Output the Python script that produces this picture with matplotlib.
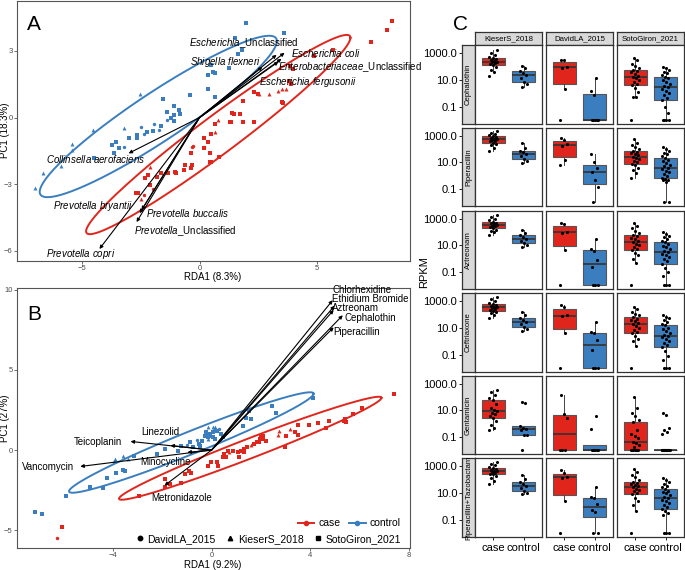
import numpy as np
import matplotlib
matplotlib.use("Agg")
import matplotlib.pyplot as plt
from matplotlib.lines import Line2D

plt.rcParams["font.family"] = ["Liberation Sans", "DejaVu Sans"]
plt.rcParams["mathtext.fontset"] = "custom"
plt.rcParams["mathtext.it"] = "Liberation Sans:italic"
plt.rcParams["mathtext.rm"] = "Liberation Sans"

RED = "#E0261C"
BLUE = "#3A7EBF"
study_marker = {"D": "o", "K": "^", "S": "s"}

# ---------------- panel A: species RDA ----------------
a_ctrl_x = [1.96, 3.59, 1.53, 1.82, 1.63, 0.50, 0.58, 0.68, 1.25, 0.35, 0.37, -0.41, 0.68, -1.55, -1.09, -0.88,
            -1.38, -1.09, -0.81, -1.23, -1.09, -1.66, -1.97, -2.23, -2.68, -2.65, -3.01, -3.57, -3.72, -3.65, -3.43,
            -4.50, -1.73, -2.37, -3.22, -1.38, -1.94, -2.51, -2.54, -4.52, -3.22, -5.42, -5.42, -5.91, -6.65, -7.01]
a_ctrl_y = [4.24, 3.79, 3.58, 3.04, 2.87, 2.34, 2.04, 2.00, 2.22, 1.90, 1.30, 1.00, 0.93, 0.82, 0.51, 0.36,
            0.25, 0.10, 0.18, -0.04, -0.15, -0.39, -0.61, -0.64, -0.79, -0.94, -0.94, -1.09, -1.24, -1.61, -1.39,
            -1.84, -0.57, -0.72, -1.31, -0.12, -0.27, -0.42, 1.07, -0.54, -0.45, -1.21, -1.46, -2.16, -2.51, -3.15]
a_ctrl_study = list("S" * 32 + "D" * 6 + "K" * 8)

a_case_x = [8.21, 8.0, 7.32, 5.70, 4.89, 3.87, 4.0, 3.79, 3.91, 2.30, 2.51, 3.49, 3.57, 1.87, 1.40, 1.45, 1.74,
            1.87, 2.30, 1.28, 1.32, 0.68, 0.47, 0.17, 0.38, 0.81, 0.47, -0.30, -0.60, -0.68, -1.02, -2.21, -1.79,
            -2.64, -2.30, -2.09, -2.72, -0.38, 0.43, -1.06, -1.36, -0.64, -1.66, -0.38, 0.43, 0.21,
            -0.26, -0.30, 0.17, -2.38, -2.0,
            3.36, 3.53, 3.70, 2.94, 2.55, 0.77, 0.68, -2.09, -2.51]
a_case_y = [4.34, 3.94, 3.40, 3.04, 2.78, 2.33, 2.19, 1.66, 1.52, 1.16, 1.07, 0.72, 0.67, 0.76, 0.22, 0.18, 0.18,
            -0.18, -0.18, -0.18, -0.22, -0.27, -0.72, -0.90, -1.12, -1.79, -2.0, -2.15, -2.15, -2.37, -2.51, -2.60,
            -2.69, -3.40, -2.73, -3.04, -3.40, -1.61, -1.61, -2.46, -2.51, -2.37, -2.51, -2.28, -2.0, -1.39,
            -1.30, -1.34, -1.34, -3.49, -3.22,
            1.21, 1.30, 1.30, 1.07, 1.07, -0.09, -0.67, -2.24, -3.67]
a_case_study = list("S" * 46 + "D" * 5 + "K" * 9)

a_species = ["$\\it{Escherichia}$_Unclassified", "$\\it{Escherichia\\ coli}$", "$\\it{Shigella\\ flexneri}$",
             "$\\it{Enterobacteriaceae}$_Unclassified", "$\\it{Escherichia\\ fergusonii}$",
             "$\\it{Collinsella\\ aerofaciens}$", "$\\it{Prevotella\\ bryantii}$", "$\\it{Prevotella\\ buccalis}$",
             "$\\it{Prevotella}$_Unclassified", "$\\it{Prevotella\\ copri}$"]
a_load_x = [3.28, 3.62, 2.68, 3.49, 3.36, -3.02, -2.55, -2.47, -2.68, -4.26]
a_load_y = [2.82, 2.91, 2.28, 2.64, 2.51, -1.61, -4.30, -4.16, -4.70, -5.91]
# label placement (x, y, ha)
a_label_pos = [(1.87, 3.36, "center"), (3.91, 2.91, "left"), (1.11, 2.51, "center"), (3.36, 2.27, "left"),
               (2.55, 1.60, "left"), (-4.43, -1.88, "center"), (-4.55, -3.99, "center"), (-2.26, -4.30, "left"),
               (-2.81, -5.10, "left"), (-5.06, -6.14, "center")]

# ---------------- panel B: antibiotic RDA ----------------
b_ctrl_x = [-7.15, -6.87, -5.93, -4.92, -4.39, -4.23, -3.58, -3.50, -3.86, -3.13, -2.20, -1.87, -1.38, -1.26, -0.89,
            -0.77, -0.49, -0.37, -0.08, 0.04, -0.28, 4.11, 2.44, 2.60, 1.54, 1.59, 1.26, -0.24, -0.12, 0.24, 0.37,
            -0.16, 0.04, 0.16, -0.45, 0.45, 1.40,
            -3.94, -3.41, -3.98, -3.58, -0.16, 0.12, -0.16, 0.04, 0.16,
            -0.60, -1.00, 0.30]
b_ctrl_y = [-3.83, -3.96, -2.89, -2.27, -2.39, -1.71, -1.21, -1.33, -1.40, -0.39, -0.27, 0.04, -0.08, 0.23, 0.48,
            0.17, 0.36, 0.54, 0.86, 1.11, 0.86, 3.23, 2.73, 2.29, 2.42, 1.92, 1.48, 1.11, 0.98, 1.17, 0.98,
            0.79, 0.79, 0.67, 0.23, 0.79, 2.00,
            -0.58, -0.58, -0.71, -0.39, 0.67, 1.29, 1.42, 1.42, 1.42,
            0.60, 0.30, 1.30]
b_ctrl_study = list("S" * 37 + "K" * 9 + "D" * 3)

b_case_x = [7.40, 6.10, 5.73, 5.41, 5.45, 5.37, 4.76, 4.31, 3.94, 4.63, 3.50, 3.41, 3.50, 3.01, 2.97, 2.11, 2.07,
            1.95, 1.83, 1.71, 1.91, 2.20, 2.00, 1.46, 1.30, 1.18, 1.06, 1.10, 1.30, 0.89, 0.49, 0.45, 0.57, 0.24,
            -0.04, -0.16, 0.28, -0.93, -1.06, -0.85, -1.26, -1.67, -1.87, -2.93, -6.06, 0.65, -1.87,
            3.17, 2.72, 2.68, 0.69, 1.60,
            -6.26]
b_case_y = [3.48, 2.60, 2.23, 1.92, 1.73, 1.79, 1.79, 1.67, 1.54, 1.36, 1.54, 1.11, 0.92, 0.86, 0.17, 0.86, 0.67,
            0.67, 0.48, 0.36, 0.48, 0.54, 0.79, 0.17, 0.04, -0.08, -0.14, -0.46, -0.14, -0.08, -0.27, -0.46, -0.46,
            -0.77, -0.77, -0.96, -1.02, -1.33, -1.52, -1.40, -2.02, -2.14, -2.27, -2.89, -4.77, -0.08, -1.83,
            1.29, 1.17, 0.92, -0.14, 0.30,
            -5.46]
b_case_study = list("S" * 47 + "K" * 5 + "D")

b_drugs = ["Chlorhexidine", "Ethidium Bromide", "Aztreonam", "Cephalothin", "Piperacillin", "Linezolid",
           "Teicoplanin", "Vancomycin", "Minocycline", "Metronidazole"]
b_load_x = [4.92, 5.00, 4.96, 5.33, 4.96, -1.67, -3.29, -5.33, -0.98, -1.91]
b_load_y = [9.34, 9.00, 8.73, 8.40, 7.65, 0.29, 0.54, -1.02, -0.14, -2.21]
b_label_pos = [(4.92, 9.98, "left"), (4.88, 9.40, "left"), (4.88, 8.84, "left"), (5.41, 8.20, "left"),
               (4.96, 7.36, "left"), (-2.07, 1.11, "center"), (-4.63, 0.48, "center"), (-6.63, -1.08, "center"),
               (-1.87, -0.77, "center"), (-1.22, -2.96, "center")]

# ---------------- panel C: log10 RPKM per sample (0 shown at -2) ----------------
studies = ["KieserS_2018", "DavidLA_2015", "SotoGiron_2021"]
drugs = ["Cephalothin", "Piperacillin", "Aztreonam", "Ceftriaxone", "Gentamicin", "Piperacillin+Tazobactam"]

cephalothin = {
    "KieserS_2018": ([1.3, 1.55, 1.75, 1.98, 2.11, 2.18, 2.24, 2.3, 2.36, 2.42, 2.48, 2.54, 2.6, 2.72, 2.85, 3.0, 3.2],
                     [0.46, 0.65, 0.8, 1.1, 1.37, 1.5, 1.69, 1.85, 2.0]),
    "DavidLA_2015": ([-2, 0.3, 1.9, 1.95, 2.45, 2.5],
                     [-2, -2, -2, -2, -2, -0.11, 0.2, 1.12]),
    "SotoGiron_2021": ([-2, -0.31, -0.3, 0.1, 0.4, 0.58, 0.7, 0.85, 0.95, 1.1, 1.2, 1.3, 1.42, 1.55, 1.65, 1.74,
                        1.9, 2.05, 2.2, 2.45, 2.6],
                       [-2, -2, -2, -2, -1.5, -1.0, -0.53, -0.35, -0.15, 0.0, 0.15, 0.3, 0.46, 0.55, 0.7, 0.85,
                        0.95, 1.1, 1.2, 1.35, 1.5, 1.6, 1.75, 1.85, 1.99]),
}
piperacillin = {
    "KieserS_2018": ([1.89, 2.1, 2.3, 2.42, 2.5, 2.58, 2.64, 2.7, 2.75, 2.8, 2.86, 2.93, 3.0, 3.08, 3.15, 3.25, 3.37],
                     [0.95, 1.1, 1.22, 1.45, 1.6, 1.75, 1.89, 2.1, 2.46]),
    "DavidLA_2015": ([0.78, 1.15, 2.25, 2.4, 2.7, 2.83],
                     [-2, -0.9, -0.33, 0.28, 0.6, 1.02, 1.64]),
    "SotoGiron_2021": ([-0.2, 0.2, 0.45, 0.6, 0.78, 0.9, 1.0, 1.12, 1.22, 1.33, 1.44, 1.52, 1.6, 1.68, 1.78, 1.89,
                        2.0, 2.15, 2.3, 2.5, 2.75],
                       [-2, -2, -0.45, -0.35, -0.3, -0.25, -0.2, 0.0, 0.15, 0.25, 0.38, 0.48, 0.58, 0.7, 0.82,
                        0.95, 1.08, 1.2, 1.32, 1.45, 1.6, 1.72, 1.85, 2.0, 2.14]),
}
aztreonam = {
    "KieserS_2018": ([1.8, 1.98, 2.1, 2.2, 2.3, 2.38, 2.44, 2.5, 2.55, 2.6, 2.66, 2.73, 2.8, 2.9, 3.02, 3.15, 3.3],
                     [0.88, 1.0, 1.18, 1.35, 1.48, 1.6, 1.75, 1.95, 2.18]),
    "DavidLA_2015": ([-2, 0.63, 1.95, 2.0, 2.6, 2.73],
                     [-2, -2, -2, -0.65, -0.1, 0.6, 0.75, 1.48]),
    "SotoGiron_2021": ([-2, -0.33, 0.0, 0.25, 0.45, 0.63, 0.75, 0.88, 1.0, 1.12, 1.25, 1.35, 1.45, 1.55, 1.68, 1.8,
                        1.95, 2.1, 2.3, 2.5, 2.68],
                       [-2, -2, -2, -1.33, -1.0, -0.7, -0.38, -0.2, -0.05, 0.1, 0.25, 0.38, 0.5, 0.6, 0.72, 0.85,
                        0.98, 1.1, 1.23, 1.35, 1.48, 1.6, 1.72, 1.85, 1.98]),
}
ceftriaxone = {
    "KieserS_2018": ([1.75, 1.95, 2.08, 2.18, 2.28, 2.35, 2.42, 2.48, 2.53, 2.58, 2.63, 2.69, 2.75, 2.85, 2.98, 3.12,
                      3.28],
                     [0.78, 0.92, 1.08, 1.3, 1.45, 1.6, 1.75, 1.95, 2.15]),
    "DavidLA_2015": ([-2, 0.58, 1.85, 1.95, 2.55, 2.7],
                     [-2, -2, -2, -0.68, 0.1, 0.6, 0.7, 1.45]),
    "SotoGiron_2021": ([-2, -0.35, 0.0, 0.2, 0.4, 0.58, 0.72, 0.86, 1.0, 1.15, 1.28, 1.38, 1.48, 1.58, 1.68, 1.78,
                        1.92, 2.05, 2.2, 2.4, 2.58],
                       [-2, -2, -2, -1.43, -1.1, -0.75, -0.43, -0.25, -0.1, 0.05, 0.18, 0.3, 0.4, 0.5, 0.62, 0.75,
                        0.88, 1.02, 1.2, 1.32, 1.45, 1.58, 1.7, 1.82, 1.95]),
}
gentamicin = {
    "KieserS_2018": ([-0.45, -0.3, -0.1, 0.2, 0.43, 0.55, 0.7, 0.82, 0.93, 1.05, 1.2, 1.45, 1.75, 1.95, 2.2, 2.4,
                      2.55],
                     [-2, -0.83, -0.83, -0.5, -0.38, -0.3, -0.2, 1.55, 1.6]),
    "DavidLA_2015": ([-2, -2, -2, 0.43, 0.73, 2.13],
                     [-2, -2, -2, -2, -2, -2, -0.38, 0.55]),
    "SotoGiron_2021": ([-2, -2, -2, -2, -2, -2, -2, -1.8, -1.6, -1.5, -1.4, -1.1, -0.95, -0.8, -0.5, 0.1, 0.3, 0.55,
                        0.8, 1.2, 2.0],
                       [-2, -2, -2, -2, -2, -2, -2, -2, -2, -2, -2, -2, -2, -2, -2, -2, -2, -2, -2,
                        -0.75, -0.6, -0.45, -0.3, 0.63, 0.8]),
}
pip_tazo = {
    "KieserS_2018": ([1.66, 1.9, 2.1, 2.25, 2.37, 2.44, 2.5, 2.55, 2.6, 2.65, 2.7, 2.78, 2.85, 2.95, 3.05, 3.18, 3.3],
                     [0.9, 1.02, 1.15, 1.35, 1.53, 1.68, 1.84, 2.05, 2.3]),
    "DavidLA_2015": ([-2, 0.39, 2.1, 2.2, 2.5, 2.67],
                     [-2, -2, -0.44, -0.29, 0.2, 0.6, 0.7, 1.4]),
    "SotoGiron_2021": ([-2, -0.37, 0.1, 0.4, 0.65, 0.9, 1.0, 1.1, 1.2, 1.3, 1.4, 1.48, 1.56, 1.64, 1.74, 1.84, 1.98,
                        2.15, 2.35, 2.55, 2.8],
                       [-2, -2, -2, -0.62, -0.5, -0.38, -0.24, -0.05, 0.1, 0.25, 0.38, 0.5, 0.6, 0.7, 0.82, 0.95,
                        1.05, 1.15, 1.28, 1.4, 1.52, 1.65, 1.8, 1.95, 2.09]),
}
rpkm_log10 = [cephalothin, piperacillin, aztreonam, ceftriaxone, gentamicin, pip_tazo]

# ---------------- figure ----------------
W, H = 685, 570
fig = plt.figure(figsize=(W / 100, H / 100), dpi=100)


def px_axes(x0, x1, y0, y1):
    return fig.add_axes([x0 / W, 1 - y1 / H, (x1 - x0) / W, (y1 - y0) / H])


def cov_trob(pts, nu=5, maxit=25, tol=0.01):
    # robust multivariate-t location/scatter, as used by ggplot's stat_ellipse
    n, p = pts.shape
    loc = pts.mean(0)
    w = np.ones(n)
    for _ in range(maxit):
        w0 = w
        X = pts - loc
        _, d, vt = np.linalg.svd(np.sqrt(w / w.sum())[:, None] * X, full_matrices=False)
        wX = X @ vt.T / d
        Q = (wX ** 2).sum(1)
        w = (nu + p) / (nu + Q)
        loc = (w[:, None] * pts).sum(0) / w.sum()
        if np.all(np.abs(w - w0) < tol):
            break
    Xw = np.sqrt(w)[:, None] * X
    return loc, Xw.T @ Xw / n


def ellipse(ax, x, y, color, level=0.95):
    pts = np.column_stack([x, y])
    center, shape = cov_trob(pts)
    dfd = len(pts) - 1
    fq = dfd / 2 * ((1 - level) ** (-2 / dfd) - 1)   # F(2, dfd) quantile
    radius = np.sqrt(2 * fq)
    t = np.linspace(0, 2 * np.pi, 300)
    circle = np.column_stack([np.cos(t), np.sin(t)])
    e = center + radius * circle @ np.linalg.cholesky(shape).T
    ax.plot(e[:, 0], e[:, 1], color=color, lw=1.4, zorder=2)


def scatter_groups(ax, x, y, study, color):
    x, y, study = np.asarray(x), np.asarray(y), np.asarray(study)
    for code, mk in study_marker.items():
        m = study == code
        ax.scatter(x[m], y[m], marker=mk, s=8 if mk != "o" else 6, color=color, linewidths=0, zorder=3)


def style_rda(ax):
    for sp in ax.spines.values():
        sp.set_color("#555555")
        sp.set_linewidth(0.8)
    ax.tick_params(length=2, width=0.5, color="#333333", labelsize=5.5, labelcolor="#4D4D4D", pad=1)


def arrows(ax, names, lx, ly, pos, size=7.2):
    for name, x, y, (tx, ty, ha) in zip(names, lx, ly, pos):
        ax.annotate("", xy=(x, y), xytext=(0, 0),
                    arrowprops=dict(arrowstyle="-|>", color="black", lw=0.8, mutation_scale=5,
                                    shrinkA=0, shrinkB=0), zorder=4)
        ax.text(tx, ty, name, ha=ha, va="center", fontsize=size, zorder=5)


# Panel A
axA = px_axes(17, 410, 1, 261)
scatter_groups(axA, a_ctrl_x, a_ctrl_y, a_ctrl_study, BLUE)
scatter_groups(axA, a_case_x, a_case_y, a_case_study, RED)
ellipse(axA, a_ctrl_x, a_ctrl_y, BLUE)
ellipse(axA, a_case_x, a_case_y, RED)
arrows(axA, a_species, a_load_x, a_load_y, a_label_pos, size=7.0)
axA.set_xlim(-7.77, 8.96)
axA.set_ylim(-6.45, 5.24)
axA.set_xticks([-5, 0, 5])
axA.set_yticks([3, 0, -3, -6])
style_rda(axA)
fig.text(213 / W, 1 - 277 / H, "RDA1 (8.3%)", ha="center", va="center", fontsize=7)
fig.text(5 / W, 1 - 130 / H, "PC1 (18.3%)", ha="center", va="center", rotation=90, fontsize=7)
fig.text(34 / W, 1 - 25 / H, "A", ha="center", va="center", fontsize=15)

# Panel B
axB = px_axes(17, 410, 288, 548)
scatter_groups(axB, b_ctrl_x, b_ctrl_y, b_ctrl_study, BLUE)
scatter_groups(axB, b_case_x, b_case_y, b_case_study, RED)
ellipse(axB, b_ctrl_x, b_ctrl_y, BLUE)
ellipse(axB, b_case_x, b_case_y, RED)
arrows(axB, b_drugs, b_load_x, b_load_y, b_label_pos, size=7.0)
axB.set_xlim(-7.9, 8.06)
axB.set_ylim(-6.1, 10.1)
axB.set_xticks([-4, 0, 4, 8])
axB.set_yticks([10, 5, 0, -5])
style_rda(axB)
fig.text(213 / W, 1 - 565 / H, "RDA1 (9.2%)", ha="center", va="center", fontsize=7)
fig.text(5 / W, 1 - 418 / H, "PC1 (27%)", ha="center", va="center", rotation=90, fontsize=7)
fig.text(34 / W, 1 - 314 / H, "B", ha="center", va="center", fontsize=15)

h1 = [Line2D([0], [0], color=RED, marker="o", lw=1.4, markersize=3),
      Line2D([0], [0], color=BLUE, marker="o", lw=1.4, markersize=3)]
leg1 = axB.legend(h1, ["case", "control"], loc="center right", bbox_to_anchor=(0.99, 0.095), ncol=2,
                  frameon=False, fontsize=7.5, handlelength=1.6, handletextpad=0.4, columnspacing=0.8,
                  borderpad=0)
axB.add_artist(leg1)
h2 = [Line2D([0], [0], color="black", marker=study_marker[c], ls="none", markersize=3.2) for c in "DKS"]
axB.legend(h2, ["DavidLA_2015", "KieserS_2018", "SotoGiron_2021"], loc="center right",
           bbox_to_anchor=(0.99, 0.035), ncol=3, frameon=False, fontsize=7.5, handlelength=0.8,
           handletextpad=0.3, columnspacing=1.0, borderpad=0)

# Panel C
col_px = [(475, 542), (546, 613), (617, 684)]
row_px = [(45, 124), (128, 206), (211, 289), (293, 372), (376, 454), (458, 537)]
YLIM = (-2.3, 3.6)
EDGE = "#333333"


def frame(ax, color=EDGE):
    for sp in ax.spines.values():
        sp.set_color(color)
        sp.set_linewidth(0.9)


for j, (x0, x1) in enumerate(col_px):
    st = px_axes(x0, x1, 32, 45)
    st.set_facecolor("#D9D9D9")
    st.set_xticks([])
    st.set_yticks([])
    frame(st)
    st.text(0.5, 0.5, studies[j], ha="center", va="center", fontsize=5.6, transform=st.transAxes)

for i, (y0, y1) in enumerate(row_px):
    sl = px_axes(462, 475, y0, y1)
    sl.set_facecolor("#D9D9D9")
    sl.set_xticks([])
    sl.set_ylim(*YLIM)
    sl.set_yticks([3, 1, -1])
    sl.set_yticklabels(["1000.0", "10.0", "0.1"])
    sl.tick_params(axis="y", length=2.5, width=0.6, labelsize=8, pad=1)
    frame(sl)
    sl.text(0.5, 0.5, drugs[i], ha="center", va="center", rotation=90, fontsize=5.6,
            transform=sl.transAxes)
    for j, (x0, x1) in enumerate(col_px):
        ax = px_axes(x0, x1, y0, y1)
        case, ctrl = rpkm_log10[i][studies[j]]
        bp = ax.boxplot([case, ctrl], positions=[1, 2], widths=0.75, patch_artist=True, showfliers=False,
                        showcaps=False, medianprops=dict(color=EDGE, lw=1.2),
                        whiskerprops=dict(color="#444444", lw=0.7),
                        boxprops=dict(edgecolor="#555555", lw=0.8))
        for patch, c in zip(bp["boxes"], [RED, BLUE]):
            patch.set_facecolor(c)
        for k, vals in enumerate([case, ctrl]):
            n = len(vals)
            jit = ((np.arange(n) * 0.618034 + 0.3 * k) % 1 - 0.5) * 0.28
            ax.scatter(np.full(n, k + 1) + jit, vals, s=5, color="black", linewidths=0, zorder=3)
        ax.set_xlim(0.4, 2.6)
        ax.set_ylim(*YLIM)
        ax.set_yticks([])
        if i == len(row_px) - 1:
            ax.set_xticks([1, 2])
            ax.set_xticklabels(["case", "control"])
            ax.tick_params(axis="x", length=2.5, width=0.6, labelsize=8, pad=1.5)
        else:
            ax.set_xticks([])
        frame(ax)

fig.text(424 / W, 1 - 272 / H, "RPKM", ha="center", va="center", rotation=90, fontsize=8)
fig.text(461 / W, 1 - 25 / H, "C", ha="center", va="center", fontsize=15)

fig.savefig("out.png", dpi=100)
